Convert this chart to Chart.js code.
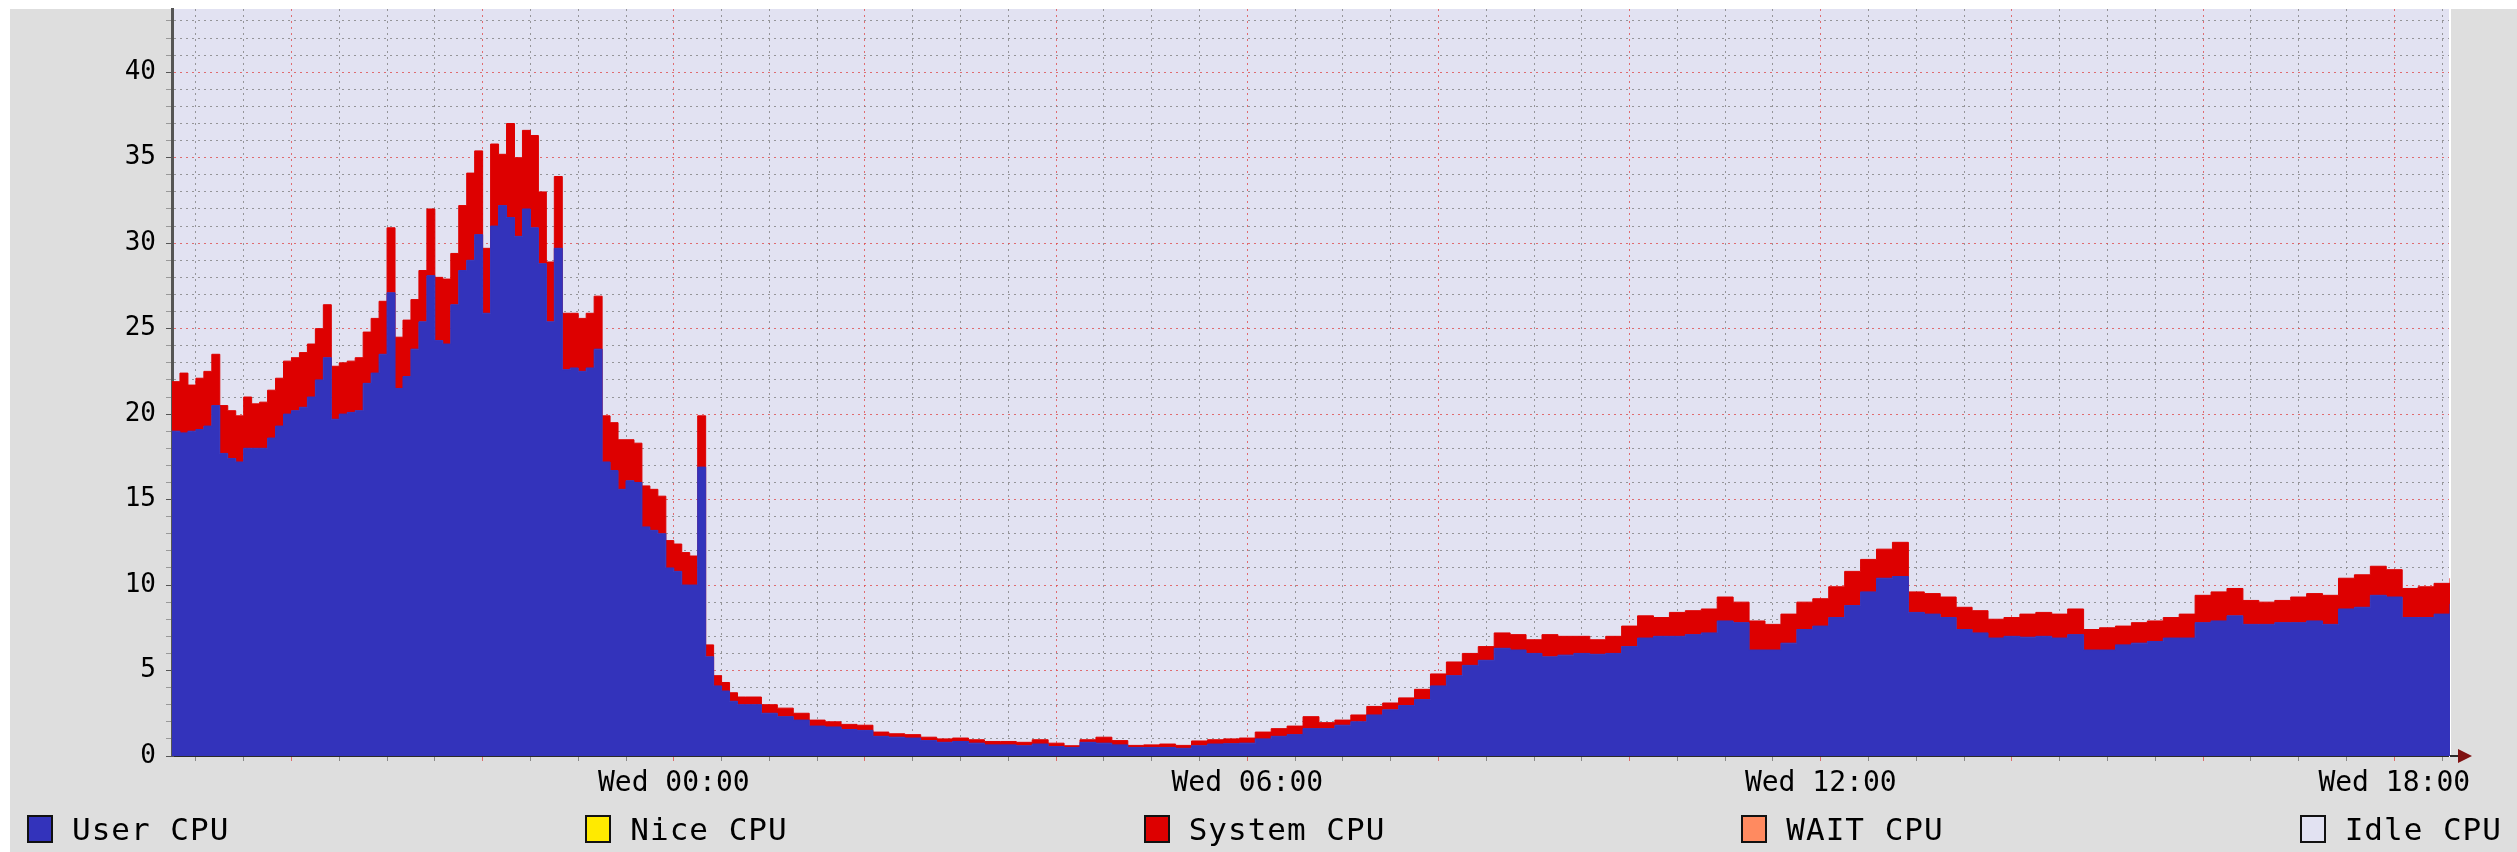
<!DOCTYPE html>
<html>
<head>
<meta charset="utf-8">
<title>CPU last day</title>
<script src="https://cdn.jsdelivr.net/npm/chart.js@4.4.1/dist/chart.umd.min.js"></script>
<style>
    html, body { margin: 0; padding: 0; background: #ffffff; }
    #frame {
        position: absolute; left: 0; top: 0; width: 2517px; height: 852px;
        box-sizing: border-box; background: #dedede;
        border-left: 10px solid #ffffff; border-top: 9px solid #ffffff;
    }
    #cpuChart { position: absolute; left: 0; top: 0; }
    #legend {
        position: absolute; left: 27px; right: 15px; top: 813px; height: 32px;
        display: flex; justify-content: space-between; align-items: center;
        font-family: "DejaVu Sans Mono", monospace; font-size: 31px; letter-spacing: 1px; color: #000;
    }
    .legend-item { display: flex; align-items: center; white-space: pre; }
    .legend-box { width: 26px; height: 28px; box-sizing: border-box; border: 2.5px solid #111; margin-right: 19px; }
</style>
</head>
<body>
<div id="frame"></div>
<canvas id="cpuChart" width="2517" height="852"></canvas>
<div id="legend"></div>
<script>
// time in hours relative to Wed 00:00
// 5 minute samples through the evening peak, 10 minute samples after that
const denseStart = -5.25;
const denseStep = 1 / 12;
const denseCount = 72;
const sparseStart = 0.75;
const sparseStep = 1 / 6;

const userCpu = [
    // 5 min samples, Tue 18:45 .. Wed 00:40
    19.0, 18.9, 19.0, 19.1, 19.3, 20.5, 17.7, 17.4, 17.2, 18.0,
    18.0, 18.0, 18.6, 19.3, 20.0, 20.2, 20.4, 21.0, 22.0, 23.3,
    19.7, 20.0, 20.1, 20.2, 21.8, 22.4, 23.5, 27.1, 21.5, 22.2,
    23.8, 25.4, 28.1, 24.3, 24.1, 26.4, 28.4, 29.0, 30.5, 25.9,
    31.0, 32.2, 31.5, 30.4, 32.0, 30.9, 28.8, 25.4, 29.7, 22.6,
    22.7, 22.5, 22.7, 23.8, 17.2, 16.7, 15.6, 16.1, 16.0, 13.4,
    13.2, 13.0, 11.0, 10.8, 10.0, 10.0, 16.9, 5.8, 4.1, 3.8,
    3.2, 3.0,
    // 10 min samples, Wed 00:45 .. 18:35
    3.0, 2.5, 2.3, 2.1,
    1.75, 1.7, 1.55, 1.5, 1.15, 1.1, 1.05, 0.9, 0.8, 0.85,
    0.75, 0.65, 0.65, 0.6, 0.7, 0.55, 0.5, 0.8, 0.75, 0.65,
    0.5, 0.5, 0.5, 0.45, 0.6, 0.7, 0.72, 0.75, 1.0, 1.15,
    1.25, 1.6, 1.6, 1.8, 2.0, 2.4, 2.7, 2.95, 3.3, 4.1,
    4.7, 5.3, 5.6, 6.3, 6.2, 6.0, 5.8, 5.9, 6.0, 5.95,
    6.0, 6.4, 6.9, 7.0, 7.0, 7.1, 7.2, 7.9, 7.8, 6.2,
    6.2, 6.6, 7.4, 7.6, 8.1, 8.8, 9.6, 10.4, 10.5, 8.4,
    8.3, 8.1, 7.4, 7.2, 6.9, 7.0, 6.95, 7.0, 6.9, 7.1,
    6.2, 6.2, 6.5, 6.6, 6.7, 6.9, 6.9, 7.8, 7.9, 8.2,
    7.7, 7.7, 7.8, 7.8, 7.9, 7.7, 8.6, 8.7, 9.4, 9.3,
    8.1, 8.1, 8.3, 8.9
];

const systemCpu = [
    // 5 min samples
    2.9, 3.5, 2.7, 3.0, 3.2, 3.0, 2.8, 2.8, 2.7, 3.0,
    2.6, 2.7, 2.8, 2.8, 3.1, 3.1, 3.2, 3.1, 3.0, 3.1,
    3.1, 3.0, 3.0, 3.1, 3.0, 3.2, 3.1, 3.8, 3.0, 3.3,
    2.9, 3.0, 3.9, 3.7, 3.8, 3.0, 3.8, 5.1, 4.9, 3.8,
    4.8, 3.0, 5.5, 4.6, 4.6, 5.4, 4.2, 3.5, 4.2, 3.3,
    3.2, 3.1, 3.2, 3.1, 2.7, 2.8, 2.9, 2.4, 2.3, 2.4,
    2.4, 2.2, 1.6, 1.6, 1.9, 1.7, 3.0, 0.7, 0.6, 0.5,
    0.5, 0.45,
    // 10 min samples
    0.45, 0.5, 0.5, 0.4,
    0.35, 0.3, 0.3, 0.3, 0.25, 0.2, 0.2, 0.2, 0.2, 0.2,
    0.2, 0.2, 0.2, 0.2, 0.25, 0.2, 0.1, 0.15, 0.35, 0.25,
    0.12, 0.15, 0.2, 0.17, 0.28, 0.25, 0.28, 0.3, 0.4, 0.45,
    0.5, 0.7, 0.35, 0.3, 0.4, 0.5, 0.4, 0.45, 0.6, 0.7,
    0.8, 0.7, 0.8, 0.9, 0.9, 0.8, 1.3, 1.1, 1.0, 0.85,
    1.0, 1.2, 1.3, 1.1, 1.4, 1.4, 1.4, 1.4, 1.2, 1.7,
    1.5, 1.7, 1.6, 1.6, 1.8, 2.0, 1.9, 1.7, 2.0, 1.2,
    1.2, 1.2, 1.3, 1.3, 1.1, 1.1, 1.35, 1.4, 1.4, 1.5,
    1.2, 1.3, 1.1, 1.2, 1.2, 1.2, 1.4, 1.6, 1.7, 1.6,
    1.4, 1.3, 1.3, 1.5, 1.6, 1.7, 1.8, 1.9, 1.7, 1.6,
    1.7, 1.8, 1.8, 1.5
];

const xLabelHours = [0, 6, 12, 18];
const xLabels = ['Wed 00:00', 'Wed 06:00', 'Wed 12:00', 'Wed 18:00'];
const yMax = 43.7;

const legendNames = ['User CPU', 'Nice CPU', 'System CPU', 'WAIT CPU', 'Idle CPU'];
const legendColors = ['#3333bb', '#ffea00', '#dd0000', '#ff8a60', '#e2e2f2'];

const sampleHours = userCpu.map((v, i) =>
    i < denseCount ? denseStart + i * denseStep : sparseStart + (i - denseCount) * sparseStep);

const minorGrid = 'rgba(130, 130, 130, 0.8)';
const majorGrid = 'rgba(222, 79, 79, 0.8)';
const axisColor = '#2a2a2a';

// legend (rrdtool style, spread across the bottom)
const legendEl = document.getElementById('legend');
legendNames.forEach((name, i) => {
    const item = document.createElement('div');
    item.className = 'legend-item';
    const box = document.createElement('span');
    box.className = 'legend-box';
    box.style.background = legendColors[i];
    item.appendChild(box);
    item.appendChild(document.createTextNode(name));
    legendEl.appendChild(item);
});

// idle area fills the whole plot behind the stacked series
const plotBackground = {
    id: 'plotBackground',
    beforeDraw(chart) {
        const { ctx, chartArea: a } = chart;
        ctx.save();
        ctx.fillStyle = legendColors[4];
        ctx.fillRect(a.left, a.top, a.right - a.left, a.bottom - a.top);
        ctx.restore();
    }
};

// small arrow at the end of the time axis
const axisArrow = {
    id: 'axisArrow',
    afterDraw(chart) {
        const { ctx, chartArea: a } = chart;
        ctx.save();
        ctx.strokeStyle = axisColor;
        ctx.lineWidth = 2;
        ctx.beginPath();
        ctx.moveTo(a.right, a.bottom);
        ctx.lineTo(a.right + 10, a.bottom);
        ctx.stroke();
        ctx.fillStyle = '#7f1010';
        ctx.beginPath();
        ctx.moveTo(a.right + 8, a.bottom - 7);
        ctx.lineTo(a.right + 22, a.bottom);
        ctx.lineTo(a.right + 8, a.bottom + 7);
        ctx.closePath();
        ctx.fill();
        ctx.restore();
    }
};

const ctx = document.getElementById('cpuChart').getContext('2d');
new Chart(ctx, {
    type: 'line',
    data: {
        labels: sampleHours,
        datasets: [
            {
                label: legendNames[0],
                data: userCpu,
                backgroundColor: legendColors[0],
                borderColor: legendColors[0],
                borderWidth: 1,
                fill: 'origin',
                stepped: true,
                pointRadius: 0
            },
            {
                label: legendNames[2],
                data: systemCpu,
                backgroundColor: legendColors[2],
                borderColor: legendColors[2],
                borderWidth: 1,
                fill: '-1',
                stepped: true,
                pointRadius: 0
            }
        ]
    },
    options: {
        responsive: false,
        animation: false,
        events: [],
        layout: { padding: { top: 9, right: 67, bottom: 0, left: 0 } },
        plugins: {
            legend: { display: false },
            tooltip: { enabled: false }
        },
        scales: {
            x: {
                type: 'linear',
                min: sampleHours[0],
                max: sampleHours[sampleHours.length - 1],
                z: 1,
                afterFit: scale => {
                    scale.height = 96;
                    scale.paddingLeft = 0;
                    scale.paddingRight = 0;
                },
                afterBuildTicks: scale => {
                    const ticks = [];
                    for (let h = -5; h <= 18.5; h += 0.5) ticks.push({ value: h });
                    scale.ticks = ticks;
                },
                grid: {
                    color: c => (c.tick && c.tick.value % 2 === 0) ? majorGrid : minorGrid,
                    tickColor: c => (c.tick && c.tick.value % 2 === 0) ? majorGrid : '#888888',
                    tickLength: 5,
                    lineWidth: 1
                },
                border: { color: axisColor, width: 2, dash: [2, 4] },
                ticks: {
                    autoSkip: false,
                    maxRotation: 0,
                    padding: 6,
                    color: '#000',
                    font: { family: 'DejaVu Sans Mono', size: 28 },
                    callback: value => {
                        const k = xLabelHours.indexOf(value);
                        return k >= 0 ? xLabels[k] : '';
                    }
                }
            },
            y: {
                stacked: true,
                min: 0,
                max: yMax,
                z: 1,
                afterFit: scale => {
                    scale.width = 172;
                    scale.paddingTop = 0;
                    scale.paddingBottom = 0;
                },
                afterBuildTicks: scale => {
                    const ticks = [];
                    for (let v = 0; v <= Math.floor(yMax); v++) ticks.push({ value: v });
                    scale.ticks = ticks;
                },
                grid: {
                    color: c => (c.tick && c.tick.value % 5 === 0) ? majorGrid : minorGrid,
                    tickColor: c => (c.tick && c.tick.value % 5 === 0) ? '#555555' : '#999999',
                    tickLength: 6,
                    lineWidth: 1
                },
                border: { color: '#555555', width: 3, dash: [2, 4] },
                ticks: {
                    autoSkip: false,
                    padding: 10,
                    color: '#000',
                    font: { family: 'DejaVu Sans Mono', size: 26 },
                    callback: value => (value % 5 === 0 ? String(value) : '')
                }
            },
            y2: {
                position: 'right',
                display: true,
                z: 2,
                afterFit: scale => {
                    scale.width = 0;
                    scale.paddingTop = 0;
                    scale.paddingBottom = 0;
                },
                grid: { drawOnChartArea: false, drawTicks: false },
                border: { color: '#ffffff', width: 2 },
                ticks: { display: false }
            }
        }
    },
    plugins: [plotBackground, axisArrow]
});
</script>
</body>
</html>
